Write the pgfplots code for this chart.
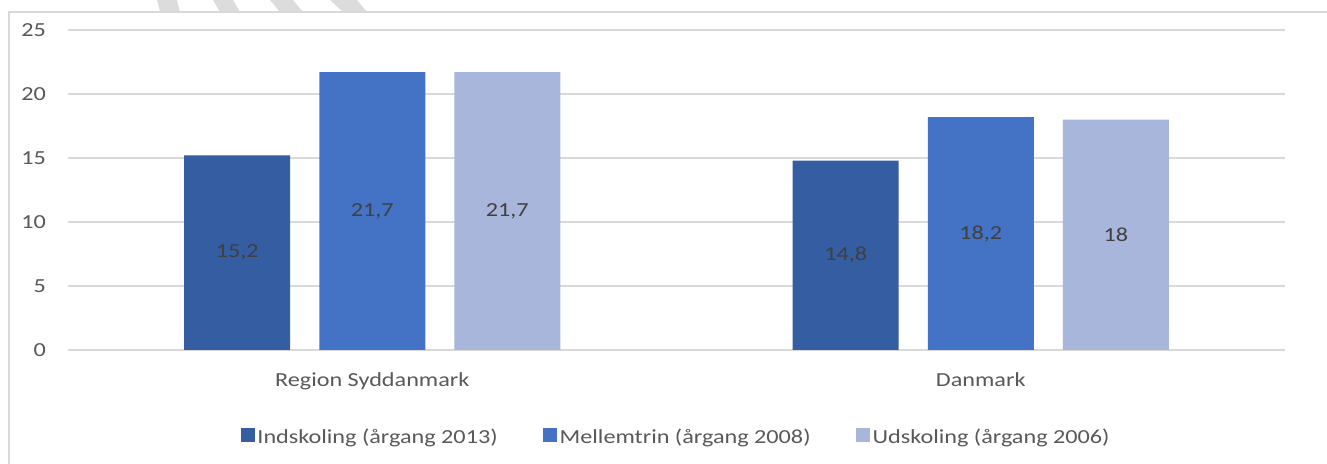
\documentclass[border=0pt]{standalone}
\usepackage{fontspec}
\setmainfont{Carlito}[FakeStretch=1.215]
\usepackage{pgfplots}
\usepackage{pgfplotstable}
\pgfplotsset{compat=1.18}
\definecolor{cA}{HTML}{345DA2}
\definecolor{cB}{HTML}{4472C4}
\definecolor{cC}{HTML}{A8B6DB}
\definecolor{gridc}{HTML}{D9D9D9}
\definecolor{stripe}{HTML}{DCDCDC}
\definecolor{txt}{HTML}{595959}
\definecolor{lbl}{HTML}{404040}
\pgfplotstableread{
x v1 v2 v3
0 15.2 21.7 21.7
1 14.8 18.2 18
}\data
\newcommand{\chartfont}{\fontsize{20}{24}\selectfont}
\pgfplotsset{
  sq/.style={legend image code/.code={\fill[##1] (0bp,-5bp) rectangle (14bp,9bp);}},
  lab/.style={forget plot, draw=none, mark=none, nodes near coords, point meta=explicit,
    every node near coord/.append style={anchor=center, font=\chartfont, text=lbl, inner sep=0pt}},
}
\begin{document}
\begin{tikzpicture}
\useasboundingbox (0bp,0bp) rectangle (1327bp,464bp);
% decorative stripes at top
\fill[stripe] (157bp,464bp) -- (177bp,464bp) -- (180bp,452bp) -- (160bp,452bp) -- cycle;
\fill[stripe] (213bp,464bp) -- (233bp,464bp) -- (240bp,452bp) -- (220bp,452bp) -- cycle;
\fill[stripe] (270bp,464bp) -- (293bp,464bp) -- (303bp,452bp) -- (280bp,452bp) -- cycle;
\fill[stripe] (330bp,464bp) -- (357bp,464bp) -- (367bp,452bp) -- (343bp,452bp) -- cycle;
\fill[white] (10bp,0bp) rectangle (1330bp,451.4bp);
\draw[gridc, line width=1.3bp] (9bp,0bp) -- (9bp,452bp) -- (1330bp,452bp);
\begin{axis}[
  at={(68bp,114bp)}, anchor=south west, scale only axis,
  width=1217bp, height=320bp,
  xmin=-0.5, xmax=1.5, ymin=0, ymax=25,
  xtick={0,1}, xticklabels={Region Syddanmark, Danmark},
  ytick={0,5,...,25},
  ymajorgrids, grid style={gridc, line width=1.2bp},
  axis line style={draw=none},
  major tick length=0pt,
  tick label style={font=\chartfont, text=txt, inner sep=0pt},
  yticklabel style={anchor=east, xshift=-22bp},
  xticklabel style={anchor=base, yshift=-37bp},
  /pgf/number format/assume math mode=true,
  /pgf/number format/use comma,
  legend style={at={(0.5,-0.272)}, anchor=center, draw=none, fill=none,
    legend columns=-1, font=\chartfont, text=txt, inner sep=0pt,
    nodes={inner sep=2.5bp},
    /tikz/every even column/.append style={column sep=43bp}},
  clip=false,
]
\addplot[ybar, bar width=106bp, bar shift=0pt, fill=cA, draw=none, sq]
  table[x expr=\thisrow{x}-0.2219, y=v1] {\data};
\addplot[ybar, bar width=106bp, bar shift=0pt, fill=cB, draw=none, sq]
  table[x=x, y=v2] {\data};
\addplot[ybar, bar width=106bp, bar shift=0pt, fill=cC, draw=none, sq]
  table[x expr=\thisrow{x}+0.2219, y=v3] {\data};
\legend{Indskoling (årgang 2013), Mellemtrin (årgang 2008), Udskoling (årgang 2006)}
\addplot[lab] table[x expr=\thisrow{x}-0.2219, y expr=\thisrow{v1}/2, meta=v1] {\data};
\addplot[lab] table[x=x, y expr=\thisrow{v2}/2, meta=v2] {\data};
\addplot[lab] table[x expr=\thisrow{x}+0.2219, y expr=\thisrow{v3}/2, meta=v3] {\data};
\end{axis}
\end{tikzpicture}
\end{document}
